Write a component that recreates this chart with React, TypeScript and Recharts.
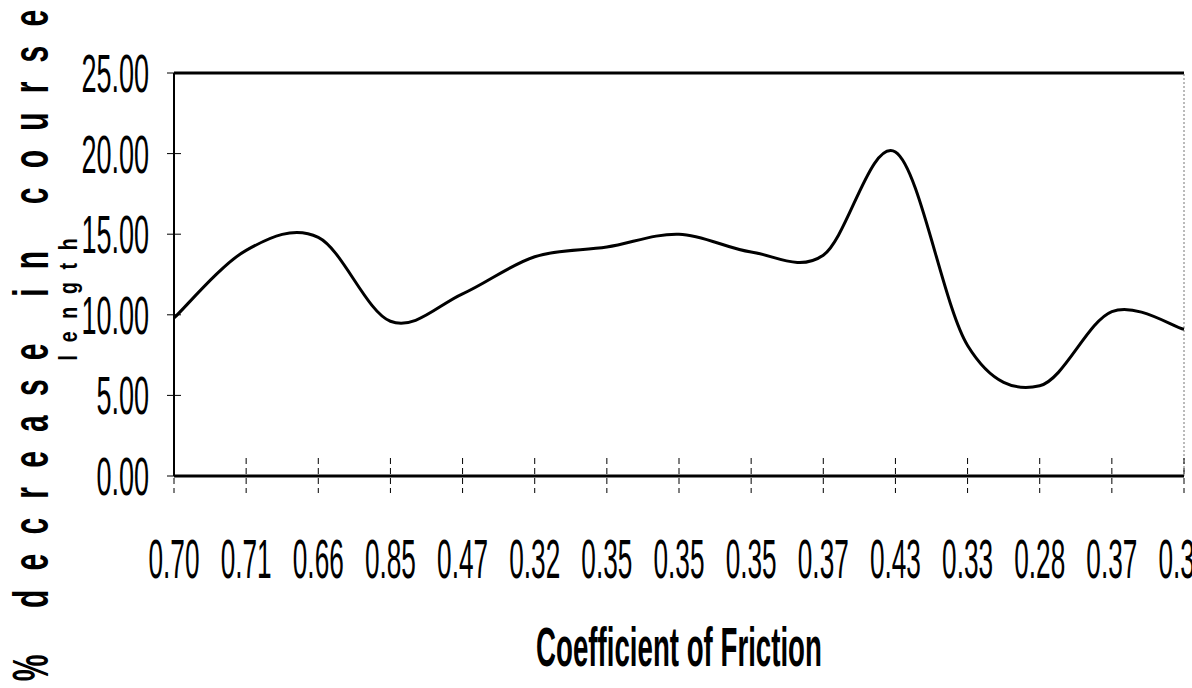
import React from 'react';
import { LineChart, Line, XAxis, YAxis, ReferenceLine } from 'recharts';

// ---- data ----
const categories = ['0.70', '0.71', '0.66', '0.85', '0.47', '0.32', '0.35', '0.35', '0.35', '0.37', '0.43', '0.33', '0.28', '0.37', '0.30'];
const decrease = [9.8, 14.0, 14.8, 9.6, 11.3, 13.6, 14.2, 15.0, 13.9, 13.7, 20.1, 8.1, 5.6, 10.2, 9.1];
const yTicks = [0, 5, 10, 15, 20, 25];
const yTickLabels = ['0.00', '5.00', '10.00', '15.00', '20.00', '25.00'];
const xTitle = 'Coefficient of Friction';
const yTitleMain = '% decrease in course';
const yTitleSecond = 'length';

const data = categories.map((c, i) => ({ i, label: c, value: decrease[i] }));

// ---- layout ----
const W = 1192;
const H = 688;
const PLOT_LEFT = 174;
const PLOT_TOP = 73;
const PLOT_RIGHT = 1184;
const PLOT_BOTTOM = 476;
const FONT = '"Liberation Sans", Arial, sans-serif';

// Excel-like smoothed line (Catmull-Rom through the points)
function excelSmooth(context: any) {
  let pts: number[][] = [];
  return {
    areaStart() {},
    areaEnd() {},
    lineStart() {
      pts = [];
    },
    lineEnd() {
      if (!pts.length) return;
      context.moveTo(pts[0][0], pts[0][1]);
      for (let k = 0; k < pts.length - 1; k++) {
        const p0 = pts[k - 1] || pts[k];
        const p1 = pts[k];
        const p2 = pts[k + 1];
        const p3 = pts[k + 2] || p2;
        const c1x = p1[0] + (p2[0] - p0[0]) / 6;
        const c1y = p1[1] + (p2[1] - p0[1]) / 6;
        const c2x = p2[0] - (p3[0] - p1[0]) / 6;
        const c2y = p2[1] - (p3[1] - p1[1]) / 6;
        context.bezierCurveTo(c1x, c1y, c2x, c2y, p2[0], p2[1]);
      }
    },
    point(x: number, y: number) {
      pts.push([+x, +y]);
    },
  };
}

const XTick = (props: any) => {
  const { x, payload } = props;
  return (
    <g>
      <line x1={x} x2={x} y1={PLOT_BOTTOM - 18} y2={PLOT_BOTTOM + 17} stroke="#000" strokeWidth={1} strokeDasharray="6 4" />
      <text
        transform={`translate(${x},578) scale(0.468,1)`}
        textAnchor="middle"
        fontSize={56}
        fontFamily={FONT}
        fill="#000"
      >
        {categories[payload.value]}
      </text>
    </g>
  );
};

const YTick = (props: any) => {
  const { y, payload } = props;
  const idx = yTicks.indexOf(payload.value);
  const label = yTickLabels[idx];
  return (
    <g>
      <line x1={PLOT_LEFT - 7} x2={PLOT_LEFT + 7} y1={y} y2={y} stroke="#000" strokeWidth={1} />
      <text
        transform={`translate(149,${y + 19}) scale(0.5,1)`}
        textAnchor="end"
        fontSize={54}
        fontFamily={FONT}
        fill="#000"
      >
        {label}
      </text>
    </g>
  );
};

const XTitle = () => (
  <text
    transform={`translate(${(PLOT_LEFT + PLOT_RIGHT) / 2},666) scale(0.494,1)`}
    textAnchor="middle"
    fontSize={56}
    fontWeight="bold"
    fontFamily={FONT}
    fill="#000"
  >
    {xTitle}
  </text>
);

const YTitle = () => (
  <g>
    <text
      transform="translate(48,336) rotate(-90) scale(0.6,1)"
      textAnchor="middle"
      fontSize={50}
      fontWeight="bold"
      fontFamily={FONT}
      fill="#000"
      letterSpacing={32}
    >
      {yTitleMain}
    </text>
    <text
      transform="translate(77,293) rotate(-90) scale(0.75,1)"
      textAnchor="middle"
      fontSize={26}
      fontWeight="bold"
      fontFamily={FONT}
      fill="#000"
      letterSpacing={17}
    >
      {yTitleSecond}
    </text>
  </g>
);

export default function App() {
  return (
    <div style={{ position: 'absolute', left: 0, top: 0, width: W, height: H, background: '#fff' }}>
      <LineChart
        width={W}
        height={H}
        data={data}
        margin={{ top: PLOT_TOP, right: W - PLOT_RIGHT, bottom: 0, left: 0 }}
      >
        <XAxis
          dataKey="i"
          type="category"
          interval={0}
          height={H - PLOT_BOTTOM}
          tickLine={false}
          axisLine={{ stroke: '#000', strokeWidth: 3 }}
          tick={<XTick />}
          label={<XTitle />}
        />
        <YAxis
          domain={[0, 25]}
          ticks={yTicks}
          width={PLOT_LEFT}
          tickLine={false}
          axisLine={{ stroke: '#000', strokeWidth: 2 }}
          tick={<YTick />}
          label={<YTitle />}
        />
        <ReferenceLine y={25} stroke="#000" strokeWidth={3} />
        <ReferenceLine x={14} stroke="#777" strokeWidth={1} strokeDasharray="2 2" />
        <Line
          dataKey="value"
          type={excelSmooth as any}
          stroke="#000"
          strokeWidth={3}
          strokeLinejoin="round"
          dot={false}
          activeDot={false}
          isAnimationActive={false}
        />
      </LineChart>
    </div>
  );
}
